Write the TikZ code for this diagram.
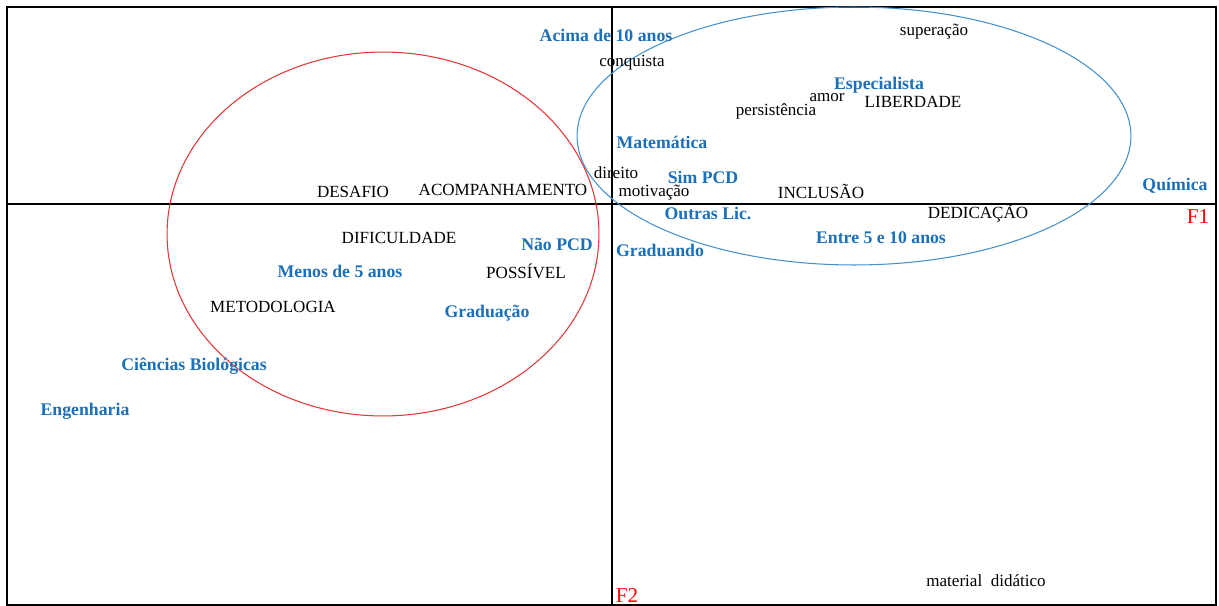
\documentclass[tikz,border=0pt]{standalone}
\usepackage{fontspec}
\setmainfont{Liberation Serif}
\definecolor{modblue}{RGB}{28,112,186}
\definecolor{ringblue}{RGB}{70,145,205}
\definecolor{ringred}{RGB}{225,55,55}
\begin{document}
\begin{tikzpicture}[
		x=0.02cm,y=-0.02cm,
		every node/.style={inner sep=0pt},
		word/.style={font=\fontsize{9.7}{11}\selectfont},
		modal/.style={font=\fontsize{10.1}{11}\selectfont\bfseries, text=modblue},
		axislabel/.style={font=\fontsize{12}{13}\selectfont, text=red},
	]
	\useasboundingbox (0,0) rectangle (1219,605);
	\fill[white] (0,0) rectangle (1219,605);
	% frame and axes
	\draw[line width=1.3pt] (7,7) rectangle (1216,605);
	\draw[line width=1.3pt] (7,204) -- (1216,204);
	\draw[line width=1.3pt] (612,7) -- (612,605);
	% groups
	\draw[ringred, line width=0.6pt] (383,234) ellipse [x radius=4.32cm, y radius=3.64cm];
	\draw[ringblue, line width=0.6pt] (854,136) ellipse [x radius=5.54cm, y radius=2.58cm];
	% words
	\foreach \n/\x/\y/\t in {
			superacao/934/32/superação, conquista/632/63/conquista,
			amor/827/98/amor, liberdade/913/102/LIBERDADE,
			persistencia/776/111/persistência, direito/616/173/direito,
			motivacao/654/193/motivação, inclusao/821/191/INCLUSÃO,
			desafio/353/192/DESAFIO, acompanhamento/503/190/ACOMPANHAMENTO,
			dedicacao/978/213/DEDICAÇÃO, dificuldade/399/238/DIFICULDADE,
			possivel/526/271/POSSÍVEL, metodologia/273/307/METODOLOGIA,
			material/986/581/material\ \ didático} {
			\node[word] (\n) at (\x,\y) {\t};
		}
	% modalities
	\foreach \n/\x/\y/\t in {
			acima/606/35/Acima de 10 anos, especialista/879/85/Especialista,
			matematica/662/142/Matemática, simpcd/703/177/Sim PCD,
			quimica/1175/186/Química, outras/708/213/Outras Lic.,
			entre/881/238/Entre 5 e 10 anos, naopcd/557/244/Não PCD,
			graduando/660/250/Graduando, menos/340/271/Menos de 5 anos,
			graduacao/487/313/Graduação, biologicas/194/366/Ciências Biológicas,
			engenharia/85/411/Engenharia} {
			\node[modal] (\n) at (\x,\y) {\t};
		}
	\node[axislabel] (f1) at (1198,217) {F1};
	\node[axislabel] (f2) at (627,596) {F2};
\end{tikzpicture}
\end{document}
